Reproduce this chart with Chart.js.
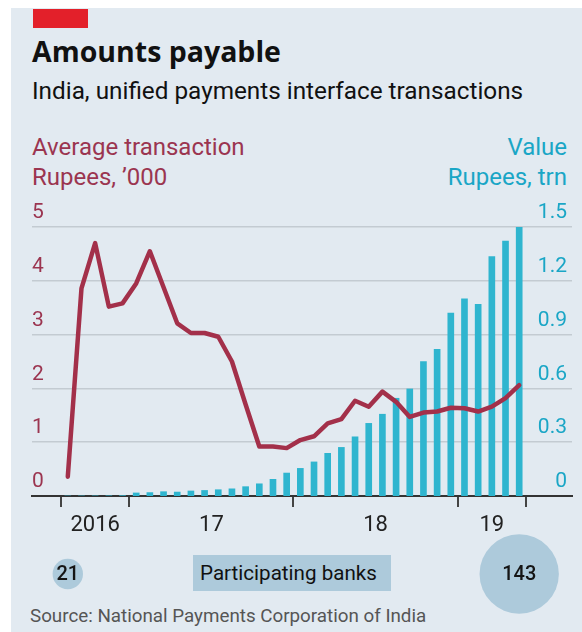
<!DOCTYPE html>
<html>
<head>
<meta charset="utf-8">
<script src="https://cdn.jsdelivr.net/npm/chart.js@4.4.1/dist/chart.umd.min.js"></script>
<style>
    html, body { margin: 0; padding: 0; background: #ffffff; }
    #panel { position: absolute; left: 11px; top: 8px; width: 571px; height: 624px; background: #e2eaf1; }
    #marca { position: absolute; left: 33px; top: 9px; width: 55px; height: 19px; background: #e3202a; }
    .txt { position: absolute; white-space: nowrap; line-height: 1; font-family: Roboto, sans-serif; }
    #titulo { left: 32px; top: 37px; font-family: 'Open Sans', sans-serif; font-size: 28.5px; font-weight: 700; color: #111; }
    #subtitulo { left: 32px; top: 79px; font-size: 24.3px; color: #111; }
    .izq { left: 32px; font-size: 24px; color: #9b3550; }
    .der { right: 15px; font-size: 24px; color: #1aa6c6; text-align: right; }
    #bancos { left: 193px; top: 555px; width: 198px; height: 36px; background: #adcadb; }
    #bancos span { position: absolute; left: 7px; top: 8px; font-size: 20.6px; color: #111; }
    #fuente { left: 30px; top: 607px; font-size: 18.8px; color: #555; }
    #grafico { position: absolute; left: 0; top: 0; }
</style>
</head>
<body>
<div id="panel"></div>
<div id="marca"></div>
<div class="txt" id="titulo">Amounts payable</div>
<div class="txt" id="subtitulo">India, unified payments interface transactions</div>
<div class="txt izq" style="top:135px">Average transaction</div>
<div class="txt izq" style="top:165px">Rupees, ’000</div>
<div class="txt der" style="top:135px">Value</div>
<div class="txt der" style="top:165px">Rupees, trn</div>
<div class="txt" id="bancos"><span class="txt">Participating banks</span></div>
<div class="txt" id="fuente">Source: National Payments Corporation of India</div>
<canvas id="grafico" width="582" height="632"></canvas>
<script>
// Meses de la serie (ago 2016 - may 2019)
const meses = [
    'Aug 2016', 'Sep 2016', 'Oct 2016', 'Nov 2016', 'Dec 2016',
    'Jan 2017', 'Feb 2017', 'Mar 2017', 'Apr 2017', 'May 2017', 'Jun 2017',
    'Jul 2017', 'Aug 2017', 'Sep 2017', 'Oct 2017', 'Nov 2017', 'Dec 2017',
    'Jan 2018', 'Feb 2018', 'Mar 2018', 'Apr 2018', 'May 2018', 'Jun 2018',
    'Jul 2018', 'Aug 2018', 'Sep 2018', 'Oct 2018', 'Nov 2018', 'Dec 2018',
    'Jan 2019', 'Feb 2019', 'Mar 2019', 'Apr 2019', 'May 2019'
]
// Transaccion media, rupias '000
const promedio = [
    0.36, 3.86, 4.70, 3.52, 3.58,
    3.95, 4.55, 3.88, 3.21, 3.03, 3.03,
    2.96, 2.50, 1.70, 0.92, 0.92, 0.89,
    1.04, 1.11, 1.35, 1.43, 1.77, 1.66,
    1.94, 1.75, 1.47, 1.55, 1.57, 1.64,
    1.63, 1.57, 1.66, 1.82, 2.06
]
// Valor, rupias trn
const valor = [
    0.0001, 0.0003, 0.0005, 0.001, 0.002,
    0.017, 0.019, 0.024, 0.022, 0.028, 0.031,
    0.035, 0.040, 0.052, 0.068, 0.093, 0.128,
    0.154, 0.190, 0.238, 0.271, 0.330, 0.405,
    0.456, 0.545, 0.597, 0.749, 0.818, 1.020,
    1.099, 1.069, 1.335, 1.422, 1.540
]
const anios = ['2016', '17', '18', '19']
const ticksIzq = [0, 1, 2, 3, 4, 5]
const ticksDer = [0, 0.3, 0.6, 0.9, 1.2, 1.5]
// Bancos participantes
const bancosMeses = ['Aug 2016', 'May 2019']
const bancosCantidad = [21, 143]

const colorLinea = '#a3304a'
const colorBarra = '#2fb5cf'

// limites de anio y centros de etiquetas
function limites_anios() {
    let bordes = [-0.5]
    let centros = []
    let inicio = 0
    for (let i = 1; i <= meses.length; i++) {
        if (i === meses.length || meses[i].slice(-4) !== meses[i - 1].slice(-4)) {
            bordes.push(i - 0.5)
            centros.push((inicio + i - 1) / 2)
            inicio = i
        }
    }
    return { bordes, centros }
}
const { bordes, centros } = limites_anios()

const burbujas = {
    id: 'burbujas',
    afterDraw(chart) {
        const ctx = chart.ctx
        const escalaX = chart.scales.x
        const cy = chart.chartArea.bottom + 78
        ctx.save()
        bancosCantidad.forEach((n, i) => {
            const px = escalaX.getPixelForValue(meses.indexOf(bancosMeses[i]))
            const r = 15.2 * Math.sqrt(n / bancosCantidad[0])
            ctx.beginPath()
            ctx.arc(px, cy, r, 0, Math.PI * 2)
            ctx.fillStyle = '#adcadb'
            ctx.fill()
            ctx.fillStyle = '#151515'
            ctx.font = '500 20px Roboto'
            ctx.textAlign = 'center'
            ctx.textBaseline = 'middle'
            ctx.fillText(String(n), px, cy + 1)
        })
        ctx.restore()
    }
}

const xMin = -2.617
const xMax = 36.86

function generar_grafico() {
    const data = {
        datasets: [{
            type: 'line',
            label: 'Average transaction',
            data: promedio.map((v, i) => ({ x: i, y: v })),
            yAxisID: 'y',
            borderColor: colorLinea,
            borderWidth: 4.5,
            pointRadius: 0,
            tension: 0,
            borderJoinStyle: 'round',
            borderCapStyle: 'round',
            order: 0
        }, {
            type: 'bar',
            label: 'Value',
            data: valor.map((v, i) => ({ x: i, y: v })),
            yAxisID: 'y1',
            backgroundColor: colorBarra,
            barThickness: 6,
            order: 1
        }]
    }
    const config = {
        data: data,
        options: {
            responsive: false,
            animation: false,
            layout: { padding: { left: 32, right: 10, top: 227, bottom: 90 } },
            plugins: { legend: { display: false }, tooltip: { enabled: false } },
            scales: {
                x: {
                    type: 'linear', position: 'bottom', min: xMin, max: xMax, offset: false,
                    afterBuildTicks: s => { s.ticks = bordes.map(v => ({ value: v })) },
                    afterFit: s => { s.height = 12 },
                    ticks: { display: false },
                    grid: { offset: false, drawOnChartArea: false, drawTicks: true, tickLength: 11, color: '#444', lineWidth: 2 },
                    border: { display: true, color: '#333', width: 2 }
                },
                xl: {
                    type: 'linear', position: 'bottom', min: xMin, max: xMax, offset: false,
                    afterBuildTicks: s => { s.ticks = centros.map(v => ({ value: v })) },
                    afterFit: s => { s.height = 34 },
                    ticks: {
                        autoSkip: false, maxRotation: 0, padding: -4,
                        color: '#222', font: { family: 'Roboto', size: 22 },
                        callback: (v, i) => anios[i]
                    },
                    grid: { display: false },
                    border: { display: false }
                },
                y: {
                    position: 'left', min: 0, max: 5,
                    afterBuildTicks: s => { s.ticks = ticksIzq.map(v => ({ value: v })) },
                    afterFit: s => { s.width = 0 },
                    ticks: {
                        mirror: true, padding: 0, labelOffset: -14,
                        color: '#9b3550', font: { family: 'Roboto', size: 21 },
                        callback: v => String(v)
                    },
                    grid: {
                        drawTicks: false, lineWidth: 1.5,
                        color: c => c.tick && c.tick.value === 0 ? 'rgba(0,0,0,0)' : '#c3cbd2'
                    },
                    border: { display: false }
                },
                y1: {
                    position: 'right', min: 0, max: 1.5,
                    afterBuildTicks: s => { s.ticks = ticksDer.map(v => ({ value: v })) },
                    afterFit: s => { s.width = 0 },
                    ticks: {
                        mirror: true, padding: -5, labelOffset: -14,
                        color: '#1aa6c6', font: { family: 'Roboto', size: 21 },
                        callback: v => v === 0 ? '0' : v.toFixed(1)
                    },
                    grid: { display: false },
                    border: { display: false }
                }
            }
        },
        plugins: [burbujas]
    }
    return new Chart(document.getElementById('grafico'), config)
}

generar_grafico()
</script>
</body>
</html>
